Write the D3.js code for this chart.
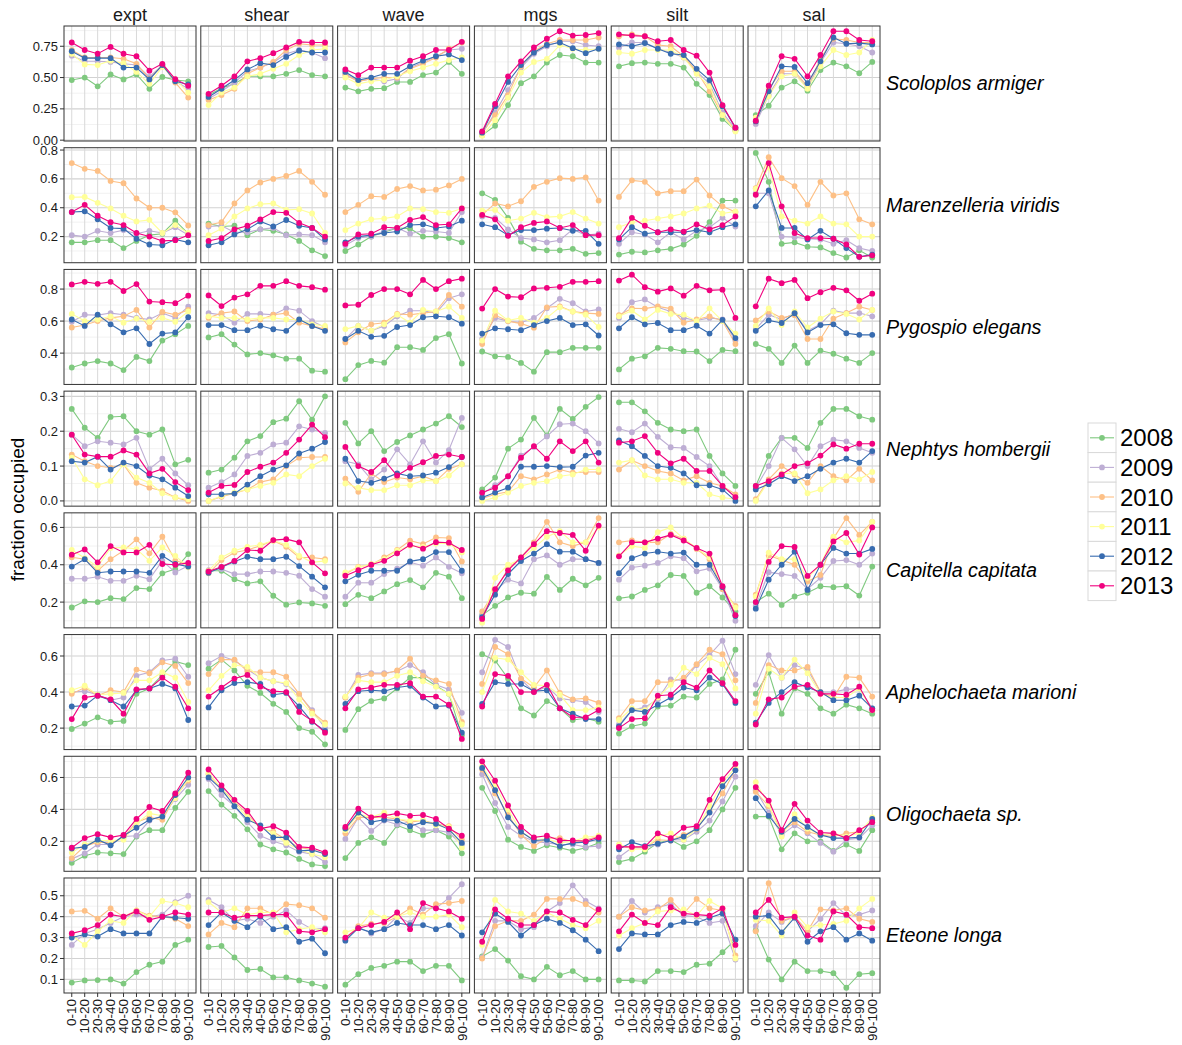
<!DOCTYPE html>
<html><head><meta charset="utf-8">
<script src="https://cdn.jsdelivr.net/npm/d3@7"></script>
<style>body{margin:0;background:#fff}svg{font-family:"Liberation Sans",Arial,Helvetica,sans-serif}</style>
</head><body><svg id="chart" width="1182" height="1045"></svg>
<script>
const years = ["2008","2009","2010","2011","2012","2013"];
const yearColors = ["#7FC97F","#BEAED4","#FDC086","#FFFF99","#386CB0","#F0027F"];
const variables = ["expt","shear","wave","mgs","silt","sal"];
const bins = ["0-10","10-20","20-30","30-40","40-50","50-60","60-70","70-80","80-90","90-100"];
const speciesNames = ["Scoloplos armiger","Marenzelleria viridis","Pygospio elegans","Nephtys hombergii","Capitella capitata","Aphelochaeta marioni","Oligochaeta sp.","Eteone longa"];
const yTickValues = [[0,0.25,0.5,0.75],[0.2,0.4,0.6,0.8],[0.4,0.6,0.8],[0,0.1,0.2,0.3],[0.2,0.4,0.6],[0.2,0.4,0.6],[0.2,0.4,0.6],[0.1,0.2,0.3,0.4,0.5]];
const yTickLabels = [["0.00","0.25","0.50","0.75"],["0.2","0.4","0.6","0.8"],["0.4","0.6","0.8"],["0.0","0.1","0.2","0.3"],["0.2","0.4","0.6"],["0.2","0.4","0.6"],["0.2","0.4","0.6"],["0.1","0.2","0.3","0.4","0.5"]];

// each species: [variable][year][bin]
const scoloplosArmiger = [
 [[0.48,0.50,0.43,0.525,0.485,0.525,0.41,0.505,0.48,0.47],[0.675,0.63,0.63,0.625,0.61,0.60,0.505,0.60,0.47,0.41],[0.72,0.66,0.66,0.66,0.65,0.61,0.49,0.60,0.46,0.34],[0.69,0.605,0.60,0.635,0.615,0.545,0.45,0.585,0.485,0.38],[0.71,0.655,0.655,0.655,0.58,0.58,0.485,0.60,0.47,0.445],[0.78,0.72,0.69,0.745,0.69,0.67,0.555,0.61,0.487,0.434]],
 [[0.36,0.415,0.45,0.51,0.51,0.51,0.53,0.56,0.52,0.51],[0.33,0.39,0.46,0.55,0.58,0.62,0.69,0.72,0.70,0.655],[0.32,0.36,0.41,0.53,0.58,0.625,0.72,0.77,0.76,0.76],[0.28,0.38,0.42,0.51,0.53,0.57,0.61,0.68,0.72,0.73],[0.345,0.41,0.48,0.565,0.615,0.60,0.665,0.715,0.70,0.70],[0.37,0.435,0.51,0.63,0.655,0.695,0.74,0.785,0.78,0.78]],
 [[0.42,0.39,0.41,0.415,0.465,0.465,0.52,0.54,0.625,0.53],[0.53,0.47,0.49,0.47,0.49,0.58,0.62,0.67,0.72,0.73],[0.52,0.47,0.49,0.50,0.50,0.57,0.61,0.66,0.73,0.78],[0.50,0.45,0.47,0.48,0.51,0.55,0.58,0.61,0.64,0.66],[0.545,0.48,0.50,0.53,0.53,0.59,0.635,0.67,0.685,0.64],[0.565,0.52,0.58,0.58,0.58,0.635,0.67,0.72,0.72,0.785]],
 [[0.04,0.115,0.28,0.455,0.51,0.62,0.68,0.67,0.62,0.62],[0.05,0.22,0.40,0.58,0.69,0.75,0.79,0.79,0.76,0.75],[0.06,0.20,0.36,0.59,0.71,0.77,0.80,0.80,0.80,0.82],[0.035,0.16,0.34,0.54,0.625,0.65,0.76,0.73,0.72,0.73],[0.06,0.27,0.465,0.60,0.70,0.76,0.78,0.735,0.695,0.73],[0.07,0.29,0.51,0.63,0.74,0.81,0.87,0.835,0.84,0.855]],
 [[0.59,0.615,0.62,0.61,0.61,0.58,0.45,0.36,0.17,0.08],[0.74,0.78,0.78,0.73,0.70,0.66,0.55,0.45,0.22,0.09],[0.83,0.845,0.83,0.76,0.75,0.67,0.55,0.39,0.20,0.08],[0.70,0.69,0.72,0.72,0.72,0.66,0.53,0.43,0.20,0.07],[0.765,0.75,0.775,0.73,0.69,0.68,0.57,0.48,0.27,0.10],[0.845,0.835,0.83,0.79,0.80,0.72,0.675,0.54,0.28,0.10]],
 [[0.20,0.275,0.42,0.47,0.395,0.56,0.62,0.59,0.535,0.625],[0.13,0.36,0.53,0.53,0.42,0.62,0.78,0.77,0.75,0.70],[0.15,0.41,0.55,0.55,0.43,0.65,0.81,0.80,0.78,0.78],[0.18,0.35,0.51,0.53,0.41,0.59,0.72,0.68,0.70,0.80],[0.15,0.39,0.59,0.585,0.455,0.63,0.82,0.77,0.775,0.765],[0.155,0.435,0.67,0.65,0.51,0.68,0.87,0.87,0.80,0.79]]
];
const marenzelleriaViridis = [
 [[0.16,0.16,0.175,0.175,0.12,0.17,0.21,0.22,0.31,0.22],[0.21,0.20,0.24,0.225,0.245,0.22,0.24,0.225,0.265,0.21],[0.71,0.67,0.655,0.586,0.57,0.464,0.40,0.40,0.368,0.277],[0.473,0.475,0.434,0.395,0.345,0.305,0.316,0.225,0.28,0.225],[0.37,0.375,0.32,0.26,0.255,0.185,0.145,0.14,0.18,0.16],[0.37,0.42,0.345,0.30,0.28,0.225,0.20,0.17,0.175,0.21]],
 [[0.29,0.27,0.275,0.21,0.25,0.24,0.215,0.17,0.105,0.065],[0.27,0.275,0.23,0.23,0.25,0.26,0.21,0.215,0.21,0.16],[0.28,0.30,0.43,0.52,0.575,0.60,0.62,0.655,0.58,0.49],[0.21,0.255,0.34,0.395,0.425,0.43,0.385,0.39,0.36,0.225],[0.14,0.16,0.215,0.25,0.305,0.27,0.315,0.275,0.26,0.18],[0.17,0.19,0.25,0.275,0.32,0.37,0.365,0.295,0.26,0.20]],
 [[0.10,0.145,0.20,0.23,0.26,0.255,0.20,0.20,0.19,0.16],[0.14,0.19,0.20,0.24,0.26,0.22,0.24,0.235,0.225,0.37],[0.37,0.42,0.48,0.475,0.53,0.55,0.52,0.525,0.555,0.60],[0.245,0.29,0.32,0.325,0.34,0.395,0.39,0.37,0.365,0.395],[0.16,0.20,0.21,0.225,0.235,0.28,0.285,0.26,0.27,0.31],[0.15,0.215,0.22,0.265,0.26,0.315,0.335,0.28,0.285,0.395]],
 [[0.50,0.455,0.33,0.165,0.115,0.105,0.105,0.115,0.08,0.085],[0.34,0.33,0.25,0.19,0.18,0.16,0.175,0.25,0.21,0.22],[0.35,0.43,0.41,0.445,0.545,0.58,0.605,0.60,0.61,0.45],[0.38,0.385,0.31,0.325,0.365,0.335,0.34,0.37,0.325,0.29],[0.285,0.265,0.21,0.245,0.245,0.255,0.26,0.24,0.24,0.15],[0.35,0.32,0.205,0.265,0.295,0.305,0.26,0.28,0.21,0.21]],
 [[0.075,0.095,0.09,0.105,0.115,0.145,0.205,0.30,0.45,0.45],[0.15,0.23,0.215,0.16,0.23,0.18,0.24,0.265,0.33,0.27],[0.475,0.59,0.58,0.50,0.515,0.515,0.595,0.485,0.41,0.37],[0.265,0.30,0.31,0.325,0.34,0.36,0.395,0.415,0.36,0.375],[0.18,0.265,0.22,0.23,0.23,0.23,0.245,0.23,0.265,0.285],[0.19,0.33,0.275,0.23,0.25,0.235,0.285,0.25,0.28,0.34]],
 [[0.78,0.58,0.15,0.16,0.13,0.125,0.085,0.055,0.105,0.055],[0.50,0.50,0.20,0.195,0.185,0.18,0.15,0.175,0.12,0.10],[0.535,0.75,0.605,0.55,0.42,0.58,0.485,0.50,0.32,0.285],[0.53,0.68,0.34,0.31,0.29,0.34,0.29,0.285,0.20,0.20],[0.41,0.52,0.26,0.26,0.18,0.24,0.185,0.12,0.06,0.075],[0.49,0.71,0.41,0.225,0.19,0.19,0.185,0.145,0.06,0.07]]
];
const pygospioElegans = [
 [[0.31,0.335,0.35,0.335,0.294,0.376,0.35,0.478,0.518,0.57],[0.596,0.64,0.637,0.65,0.64,0.62,0.61,0.65,0.62,0.69],[0.56,0.575,0.60,0.62,0.63,0.67,0.56,0.657,0.64,0.67],[0.645,0.60,0.61,0.63,0.59,0.616,0.596,0.62,0.596,0.66],[0.61,0.57,0.64,0.58,0.53,0.555,0.457,0.522,0.529,0.624],[0.829,0.845,0.833,0.845,0.788,0.831,0.722,0.718,0.712,0.759]],
 [[0.498,0.518,0.453,0.392,0.40,0.386,0.365,0.365,0.29,0.284],[0.65,0.64,0.59,0.645,0.645,0.64,0.68,0.665,0.60,0.56],[0.62,0.65,0.66,0.60,0.61,0.64,0.65,0.59,0.57,0.55],[0.63,0.62,0.62,0.61,0.62,0.62,0.61,0.61,0.58,0.57],[0.575,0.575,0.543,0.543,0.571,0.549,0.539,0.61,0.569,0.539],[0.76,0.694,0.747,0.767,0.82,0.82,0.849,0.82,0.812,0.796]],
 [[0.237,0.325,0.351,0.34,0.437,0.437,0.42,0.494,0.518,0.335],[0.488,0.57,0.54,0.57,0.63,0.665,0.665,0.65,0.743,0.767],[0.467,0.53,0.58,0.59,0.645,0.64,0.65,0.66,0.763,0.69],[0.55,0.57,0.54,0.58,0.64,0.59,0.67,0.66,0.69,0.62],[0.488,0.539,0.502,0.508,0.563,0.575,0.624,0.63,0.624,0.584],[0.698,0.702,0.763,0.80,0.80,0.767,0.857,0.80,0.849,0.865]],
 [[0.41,0.38,0.376,0.339,0.284,0.406,0.406,0.433,0.433,0.433],[0.488,0.62,0.60,0.59,0.62,0.68,0.739,0.712,0.66,0.673],[0.457,0.637,0.60,0.584,0.559,0.686,0.692,0.66,0.65,0.645],[0.478,0.665,0.604,0.62,0.59,0.62,0.686,0.66,0.64,0.563],[0.522,0.555,0.549,0.543,0.575,0.60,0.62,0.575,0.58,0.51],[0.678,0.80,0.753,0.749,0.804,0.808,0.814,0.845,0.845,0.849]],
 [[0.298,0.365,0.38,0.433,0.427,0.412,0.41,0.35,0.42,0.412],[0.62,0.718,0.735,0.686,0.66,0.62,0.604,0.62,0.61,0.478],[0.637,0.68,0.678,0.692,0.678,0.59,0.61,0.63,0.60,0.457],[0.63,0.665,0.61,0.67,0.645,0.64,0.60,0.68,0.60,0.522],[0.555,0.624,0.58,0.588,0.543,0.543,0.571,0.522,0.608,0.494],[0.853,0.89,0.812,0.784,0.804,0.759,0.82,0.792,0.796,0.62]],
 [[0.457,0.427,0.339,0.447,0.339,0.416,0.396,0.365,0.339,0.40],[0.55,0.64,0.61,0.65,0.539,0.58,0.665,0.65,0.65,0.63],[0.604,0.66,0.62,0.637,0.488,0.488,0.616,0.65,0.69,0.669],[0.57,0.68,0.575,0.66,0.56,0.616,0.66,0.645,0.61,0.67],[0.539,0.604,0.588,0.649,0.529,0.575,0.58,0.524,0.514,0.514],[0.692,0.865,0.837,0.857,0.743,0.78,0.808,0.792,0.727,0.771]]
];
const nephtysHombergii = [
 [[0.264,0.21,0.181,0.241,0.243,0.20,0.19,0.205,0.105,0.118],[0.19,0.157,0.171,0.167,0.162,0.181,0.092,0.121,0.079,0.045],[0.133,0.114,0.10,0.095,0.105,0.052,0.038,0.029,0.01,0.0],[0.124,0.062,0.045,0.057,0.105,0.067,0.052,0.022,0.01,0.005],[0.114,0.11,0.127,0.09,0.11,0.10,0.073,0.062,0.038,0.014],[0.19,0.133,0.127,0.127,0.145,0.133,0.079,0.092,0.054,0.031]],
 [[0.081,0.09,0.124,0.171,0.186,0.226,0.236,0.286,0.233,0.30],[0.038,0.054,0.076,0.129,0.138,0.162,0.167,0.214,0.205,0.195],[0.0,0.012,0.022,0.033,0.054,0.062,0.10,0.124,0.126,0.126],[0.0,0.014,0.024,0.033,0.043,0.052,0.076,0.071,0.10,0.121],[0.019,0.019,0.021,0.047,0.071,0.09,0.102,0.136,0.15,0.169],[0.024,0.043,0.046,0.083,0.098,0.11,0.138,0.176,0.219,0.183]],
 [[0.224,0.165,0.20,0.143,0.169,0.188,0.205,0.222,0.243,0.212],[0.114,0.105,0.062,0.09,0.148,0.105,0.171,0.11,0.146,0.238],[0.064,0.026,0.079,0.054,0.067,0.062,0.071,0.057,0.092,0.105],[0.05,0.038,0.031,0.031,0.045,0.045,0.059,0.057,0.073,0.105],[0.121,0.057,0.052,0.064,0.079,0.071,0.073,0.081,0.097,0.126],[0.155,0.10,0.083,0.117,0.073,0.095,0.111,0.129,0.133,0.126]],
 [[0.033,0.067,0.15,0.176,0.238,0.188,0.264,0.235,0.27,0.298],[0.02,0.045,0.07,0.13,0.155,0.185,0.22,0.222,0.20,0.165],[0.007,0.019,0.026,0.071,0.062,0.076,0.09,0.081,0.083,0.083],[0.0,0.01,0.024,0.043,0.052,0.057,0.071,0.076,0.09,0.09],[0.01,0.024,0.038,0.098,0.098,0.10,0.097,0.098,0.13,0.138],[0.024,0.038,0.071,0.124,0.157,0.121,0.171,0.143,0.171,0.11]],
 [[0.283,0.283,0.257,0.224,0.205,0.20,0.205,0.129,0.079,0.043],[0.207,0.197,0.222,0.184,0.154,0.152,0.126,0.10,0.043,0.01],[0.09,0.116,0.10,0.086,0.079,0.059,0.071,0.052,0.043,0.019],[0.11,0.117,0.073,0.062,0.062,0.052,0.052,0.019,0.01,0.005],[0.174,0.157,0.129,0.10,0.095,0.079,0.045,0.045,0.033,0.0],[0.167,0.171,0.186,0.138,0.108,0.121,0.086,0.086,0.043,0.011]],
 [[0.043,0.129,0.181,0.181,0.152,0.224,0.264,0.264,0.243,0.233],[0.038,0.10,0.181,0.148,0.10,0.157,0.176,0.171,0.152,0.138],[0.005,0.062,0.10,0.076,0.052,0.10,0.071,0.059,0.092,0.059],[0.0,0.057,0.079,0.079,0.022,0.033,0.059,0.071,0.062,0.083],[0.033,0.048,0.071,0.057,0.071,0.092,0.11,0.121,0.11,0.143],[0.043,0.057,0.076,0.10,0.108,0.13,0.162,0.15,0.164,0.164]]
];
const capitellaCapitata = [
 [[0.171,0.204,0.20,0.221,0.216,0.275,0.27,0.354,0.377,0.457],[0.325,0.325,0.336,0.314,0.314,0.341,0.323,0.421,0.359,0.395],[0.44,0.43,0.368,0.43,0.475,0.536,0.461,0.55,0.421,0.404],[0.479,0.436,0.39,0.49,0.493,0.484,0.421,0.493,0.448,0.386],[0.39,0.43,0.357,0.364,0.364,0.364,0.357,0.448,0.404,0.39],[0.454,0.482,0.413,0.50,0.466,0.466,0.507,0.404,0.40,0.41]],
 [[0.368,0.368,0.323,0.30,0.311,0.234,0.186,0.198,0.193,0.18],[0.371,0.377,0.35,0.35,0.364,0.364,0.357,0.341,0.27,0.229],[0.354,0.425,0.466,0.479,0.502,0.529,0.496,0.439,0.439,0.43],[0.368,0.439,0.475,0.496,0.507,0.529,0.507,0.448,0.413,0.421],[0.357,0.386,0.418,0.443,0.43,0.43,0.443,0.393,0.336,0.279],[0.364,0.389,0.421,0.479,0.475,0.532,0.537,0.52,0.413,0.354]],
 [[0.189,0.239,0.221,0.257,0.296,0.318,0.279,0.357,0.336,0.221],[0.229,0.304,0.304,0.35,0.379,0.413,0.395,0.439,0.389,0.354],[0.35,0.389,0.40,0.439,0.479,0.529,0.511,0.546,0.543,0.418],[0.359,0.386,0.404,0.43,0.475,0.502,0.496,0.514,0.514,0.466],[0.311,0.346,0.368,0.368,0.368,0.418,0.43,0.468,0.468,0.368],[0.341,0.371,0.40,0.421,0.461,0.507,0.486,0.521,0.518,0.479]],
 [[0.13,0.18,0.225,0.25,0.245,0.335,0.265,0.325,0.29,0.33],[0.13,0.26,0.32,0.30,0.43,0.45,0.40,0.43,0.43,0.41],[0.15,0.26,0.38,0.44,0.52,0.63,0.52,0.50,0.52,0.65],[0.09,0.33,0.40,0.43,0.49,0.55,0.58,0.52,0.52,0.60],[0.12,0.24,0.35,0.42,0.46,0.51,0.47,0.47,0.43,0.41],[0.11,0.27,0.37,0.44,0.51,0.58,0.57,0.56,0.475,0.61]],
 [[0.22,0.23,0.265,0.29,0.345,0.34,0.25,0.285,0.225,0.15],[0.32,0.385,0.395,0.41,0.445,0.435,0.365,0.38,0.27,0.10],[0.52,0.53,0.52,0.52,0.565,0.54,0.485,0.43,0.27,0.18],[0.45,0.50,0.49,0.575,0.60,0.54,0.49,0.44,0.28,0.17],[0.355,0.435,0.46,0.47,0.46,0.465,0.40,0.40,0.28,0.125],[0.445,0.52,0.52,0.54,0.56,0.53,0.49,0.46,0.285,0.13]],
 [[0.20,0.245,0.185,0.23,0.25,0.285,0.28,0.285,0.235,0.39],[0.18,0.36,0.35,0.34,0.27,0.33,0.42,0.425,0.40,0.46],[0.24,0.45,0.425,0.40,0.31,0.345,0.54,0.65,0.56,0.63],[0.23,0.465,0.43,0.43,0.33,0.40,0.55,0.52,0.53,0.63],[0.165,0.32,0.40,0.47,0.265,0.40,0.49,0.46,0.46,0.485],[0.20,0.415,0.50,0.495,0.34,0.40,0.525,0.57,0.455,0.60]]
];
const aphelochaetaMarioni = [
 [[0.195,0.225,0.26,0.235,0.24,0.39,0.42,0.495,0.57,0.55],[0.40,0.405,0.385,0.355,0.37,0.49,0.51,0.575,0.585,0.485],[0.39,0.425,0.38,0.41,0.40,0.525,0.505,0.565,0.545,0.45],[0.41,0.435,0.385,0.39,0.395,0.465,0.465,0.51,0.48,0.345],[0.32,0.325,0.38,0.355,0.32,0.41,0.42,0.445,0.42,0.245],[0.25,0.37,0.38,0.36,0.28,0.415,0.42,0.48,0.43,0.31]],
 [[0.53,0.58,0.52,0.435,0.395,0.335,0.29,0.20,0.18,0.11],[0.56,0.60,0.575,0.525,0.48,0.46,0.445,0.385,0.30,0.20],[0.50,0.58,0.58,0.515,0.51,0.51,0.485,0.39,0.29,0.23],[0.41,0.49,0.55,0.54,0.48,0.46,0.45,0.36,0.28,0.22],[0.315,0.41,0.45,0.455,0.445,0.385,0.395,0.32,0.235,0.185],[0.375,0.425,0.475,0.495,0.43,0.405,0.40,0.29,0.24,0.175]],
 [[0.19,0.305,0.35,0.365,0.42,0.48,0.48,0.435,0.39,0.16],[0.37,0.495,0.505,0.505,0.515,0.55,0.51,0.44,0.415,0.285],[0.37,0.48,0.50,0.50,0.52,0.585,0.49,0.465,0.445,0.235],[0.375,0.465,0.455,0.455,0.49,0.51,0.46,0.43,0.39,0.22],[0.335,0.405,0.41,0.405,0.425,0.435,0.37,0.32,0.325,0.175],[0.31,0.415,0.425,0.44,0.44,0.45,0.375,0.375,0.33,0.14]],
 [[0.61,0.575,0.475,0.31,0.27,0.35,0.31,0.245,0.255,0.235],[0.51,0.69,0.65,0.47,0.40,0.43,0.365,0.355,0.345,0.29],[0.445,0.65,0.61,0.475,0.425,0.52,0.395,0.36,0.365,0.34],[0.40,0.59,0.58,0.51,0.44,0.435,0.385,0.30,0.30,0.315],[0.335,0.455,0.445,0.445,0.405,0.41,0.31,0.28,0.25,0.25],[0.32,0.50,0.49,0.40,0.40,0.44,0.31,0.26,0.26,0.30]],
 [[0.17,0.21,0.225,0.32,0.325,0.375,0.37,0.445,0.47,0.635],[0.22,0.30,0.315,0.36,0.47,0.465,0.55,0.605,0.685,0.50],[0.255,0.35,0.35,0.455,0.455,0.48,0.555,0.635,0.61,0.465],[0.245,0.31,0.30,0.37,0.44,0.535,0.50,0.59,0.555,0.42],[0.21,0.30,0.29,0.33,0.37,0.425,0.41,0.48,0.445,0.34],[0.20,0.25,0.255,0.38,0.385,0.455,0.425,0.52,0.45,0.35]],
 [[0.39,0.51,0.28,0.42,0.39,0.31,0.28,0.33,0.31,0.28],[0.44,0.605,0.48,0.55,0.525,0.40,0.40,0.415,0.42,0.31],[0.34,0.55,0.52,0.52,0.54,0.40,0.37,0.485,0.48,0.375],[0.28,0.53,0.48,0.58,0.505,0.39,0.37,0.37,0.42,0.30],[0.23,0.34,0.40,0.455,0.425,0.40,0.355,0.355,0.38,0.31],[0.22,0.36,0.37,0.43,0.44,0.39,0.39,0.385,0.43,0.30]]
];
const oligochaetaSp = [
 [[0.065,0.11,0.13,0.125,0.12,0.23,0.27,0.27,0.41,0.51],[0.09,0.125,0.18,0.18,0.23,0.235,0.33,0.36,0.465,0.555],[0.095,0.17,0.195,0.19,0.225,0.32,0.35,0.335,0.48,0.58],[0.13,0.18,0.205,0.205,0.21,0.31,0.375,0.36,0.47,0.59],[0.155,0.165,0.21,0.175,0.235,0.285,0.335,0.355,0.49,0.60],[0.16,0.22,0.245,0.225,0.24,0.34,0.415,0.39,0.50,0.63]],
 [[0.515,0.43,0.36,0.275,0.18,0.15,0.13,0.09,0.055,0.045],[0.59,0.49,0.42,0.32,0.235,0.20,0.175,0.135,0.12,0.07],[0.62,0.53,0.45,0.37,0.28,0.26,0.21,0.16,0.15,0.12],[0.63,0.53,0.44,0.35,0.29,0.25,0.19,0.15,0.12,0.10],[0.60,0.525,0.42,0.335,0.30,0.225,0.225,0.14,0.145,0.12],[0.65,0.55,0.46,0.39,0.28,0.295,0.255,0.165,0.16,0.13]],
 [[0.095,0.19,0.225,0.19,0.30,0.27,0.24,0.27,0.23,0.125],[0.215,0.35,0.265,0.33,0.305,0.32,0.27,0.27,0.255,0.18],[0.25,0.35,0.35,0.35,0.34,0.32,0.33,0.31,0.295,0.21],[0.27,0.37,0.35,0.38,0.34,0.33,0.33,0.30,0.29,0.16],[0.28,0.38,0.32,0.335,0.33,0.295,0.32,0.31,0.275,0.19],[0.29,0.405,0.35,0.36,0.375,0.36,0.365,0.34,0.28,0.235]],
 [[0.535,0.39,0.21,0.165,0.14,0.175,0.16,0.14,0.16,0.19],[0.62,0.44,0.29,0.235,0.20,0.19,0.18,0.18,0.165,0.17],[0.65,0.50,0.37,0.24,0.17,0.22,0.22,0.195,0.21,0.23],[0.67,0.55,0.40,0.26,0.21,0.215,0.19,0.20,0.225,0.235],[0.66,0.52,0.35,0.26,0.205,0.21,0.17,0.19,0.195,0.215],[0.70,0.58,0.425,0.29,0.225,0.235,0.205,0.205,0.20,0.225]],
 [[0.07,0.09,0.135,0.19,0.21,0.165,0.20,0.27,0.40,0.535],[0.10,0.16,0.16,0.18,0.21,0.21,0.26,0.33,0.45,0.605],[0.175,0.16,0.16,0.21,0.205,0.24,0.275,0.39,0.50,0.65],[0.18,0.15,0.15,0.23,0.25,0.21,0.28,0.42,0.57,0.66],[0.15,0.195,0.17,0.185,0.205,0.23,0.28,0.38,0.545,0.645],[0.165,0.165,0.165,0.25,0.22,0.285,0.295,0.46,0.59,0.685]],
 [[0.355,0.355,0.15,0.25,0.20,0.20,0.14,0.18,0.14,0.27],[0.52,0.38,0.24,0.30,0.25,0.19,0.135,0.21,0.22,0.30],[0.51,0.42,0.26,0.32,0.26,0.24,0.23,0.25,0.26,0.33],[0.57,0.43,0.23,0.37,0.28,0.24,0.25,0.23,0.25,0.35],[0.47,0.36,0.26,0.34,0.29,0.24,0.22,0.22,0.225,0.34],[0.54,0.455,0.27,0.435,0.33,0.255,0.25,0.22,0.27,0.32]]
];
const eteoneLonga = [
 [[0.085,0.095,0.097,0.10,0.08,0.135,0.17,0.185,0.265,0.29],[0.265,0.32,0.34,0.37,0.40,0.41,0.40,0.41,0.47,0.50],[0.425,0.428,0.39,0.44,0.40,0.43,0.405,0.40,0.39,0.355],[0.31,0.265,0.33,0.38,0.37,0.43,0.40,0.475,0.465,0.445],[0.30,0.315,0.305,0.34,0.32,0.32,0.32,0.40,0.395,0.39],[0.32,0.335,0.36,0.41,0.40,0.425,0.385,0.40,0.42,0.41]],
 [[0.255,0.26,0.205,0.145,0.15,0.11,0.11,0.095,0.08,0.065],[0.48,0.445,0.38,0.39,0.37,0.40,0.43,0.375,0.34,0.345],[0.315,0.37,0.35,0.44,0.44,0.41,0.46,0.455,0.44,0.395],[0.47,0.42,0.44,0.41,0.42,0.42,0.325,0.34,0.35,0.325],[0.36,0.42,0.38,0.35,0.40,0.34,0.35,0.28,0.295,0.225],[0.42,0.42,0.395,0.405,0.405,0.41,0.41,0.33,0.325,0.34]],
 [[0.075,0.125,0.155,0.165,0.185,0.185,0.14,0.165,0.165,0.095],[0.29,0.35,0.32,0.34,0.40,0.37,0.44,0.44,0.49,0.555],[0.295,0.355,0.365,0.37,0.40,0.44,0.41,0.46,0.465,0.475],[0.325,0.345,0.42,0.395,0.40,0.42,0.40,0.40,0.41,0.35],[0.285,0.345,0.325,0.34,0.37,0.36,0.36,0.34,0.36,0.31],[0.30,0.345,0.36,0.375,0.42,0.34,0.465,0.44,0.425,0.39]],
 [[0.21,0.245,0.19,0.115,0.10,0.16,0.12,0.14,0.10,0.10],[0.205,0.38,0.38,0.34,0.35,0.425,0.465,0.55,0.475,0.44],[0.20,0.355,0.38,0.38,0.41,0.485,0.485,0.485,0.46,0.42],[0.265,0.48,0.425,0.415,0.38,0.42,0.39,0.36,0.345,0.38],[0.325,0.415,0.375,0.31,0.36,0.39,0.37,0.335,0.29,0.235],[0.28,0.435,0.39,0.36,0.36,0.425,0.42,0.385,0.36,0.435]],
 [[0.095,0.095,0.09,0.14,0.14,0.135,0.17,0.175,0.23,0.29],[0.40,0.475,0.42,0.445,0.46,0.405,0.40,0.37,0.38,0.195],[0.40,0.445,0.43,0.435,0.48,0.415,0.485,0.44,0.43,0.215],[0.31,0.345,0.37,0.425,0.43,0.435,0.405,0.475,0.44,0.20],[0.245,0.32,0.315,0.315,0.36,0.375,0.37,0.395,0.415,0.29],[0.33,0.41,0.37,0.36,0.445,0.415,0.41,0.405,0.44,0.265]],
 [[0.335,0.195,0.10,0.185,0.14,0.14,0.13,0.06,0.125,0.13],[0.355,0.42,0.375,0.40,0.33,0.39,0.465,0.405,0.41,0.43],[0.33,0.56,0.38,0.40,0.33,0.435,0.43,0.44,0.39,0.375],[0.385,0.38,0.31,0.42,0.35,0.36,0.365,0.38,0.44,0.485],[0.40,0.405,0.325,0.395,0.28,0.33,0.35,0.29,0.32,0.285],[0.42,0.48,0.395,0.40,0.31,0.29,0.425,0.41,0.35,0.345]]
];
const speciesData = [scoloplosArmiger, marenzelleriaViridis, pygospioElegans, nephtysHombergii, capitellaCapitata, aphelochaetaMarioni, oligochaetaSp, eteoneLonga];

(function () {
const svg = d3.select("#chart");
const plotLeft = 64, plotRight = 880, plotTop = 26, plotBottom = 993;
const gapX = 4.8, gapY = 6.7;
const nCol = variables.length, nRow = speciesNames.length;
const pw = (plotRight - plotLeft - gapX * (nCol - 1)) / nCol;
const ph = (plotBottom - plotTop - gapY * (nRow - 1)) / nRow;

const x = d3.scalePoint().domain(bins).range([0, pw]).padding(0.6);
const color = d3.scaleOrdinal().domain(years).range(yearColors);

variables.forEach((v, c) => {
  svg.append("text").attr("x", plotLeft + c * (pw + gapX) + pw / 2).attr("y", 21)
    .attr("text-anchor", "middle").attr("font-size", 18).attr("fill", "#1a1a1a").text(v);
});

speciesData.forEach((sp, r) => {
  const y0 = plotTop + r * (ph + gapY);
  const all = sp.flat(2);
  const ext = d3.extent(all);
  const pad = (ext[1] - ext[0]) * 0.05;
  const y = d3.scaleLinear().domain([ext[0] - pad, ext[1] + pad]).range([ph, 0]);
  const ticks = yTickValues[r];
  const step = ticks[1] - ticks[0];
  const minor = [];
  for (let t = ticks[0] - step / 2; t <= y.domain()[1]; t += step) if (t >= y.domain()[0]) minor.push(t);

  const ya = svg.append("g").attr("transform", `translate(${plotLeft},${y0})`);
  ticks.forEach((t, i) => {
    ya.append("line").attr("x1", -4).attr("x2", 0).attr("y1", y(t)).attr("y2", y(t)).attr("stroke", "#333").attr("stroke-width", 1);
    ya.append("text").attr("x", -6).attr("y", y(t)).attr("dy", "0.35em").attr("text-anchor", "end")
      .attr("font-size", 13).attr("fill", "#1a1a1a").text(yTickLabels[r][i]);
  });

  sp.forEach((varData, c) => {
    const g = svg.append("g").attr("transform", `translate(${plotLeft + c * (pw + gapX)},${y0})`);
    g.append("rect").attr("width", pw).attr("height", ph).attr("fill", "#fff");
    minor.forEach(t => g.append("line").attr("x1", 0).attr("x2", pw).attr("y1", y(t)).attr("y2", y(t)).attr("stroke", "#ececec").attr("stroke-width", 0.7));
    ticks.forEach(t => g.append("line").attr("x1", 0).attr("x2", pw).attr("y1", y(t)).attr("y2", y(t)).attr("stroke", "#d2d2d2").attr("stroke-width", 1.1));
    bins.forEach(b => g.append("line").attr("x1", x(b)).attr("x2", x(b)).attr("y1", 0).attr("y2", ph).attr("stroke", "#d9d9d9").attr("stroke-width", 1));
    const line = d3.line().x((d, i) => x(bins[i])).y(d => y(d));
    varData.forEach((vals, k) => {
      g.append("path").attr("d", line(vals)).attr("fill", "none").attr("stroke", color(years[k])).attr("stroke-width", 1.1);
      g.selectAll(null).data(vals).enter().append("circle")
        .attr("cx", (d, i) => x(bins[i])).attr("cy", d => y(d)).attr("r", 2.9).attr("fill", color(years[k]));
    });
    g.append("rect").attr("width", pw).attr("height", ph).attr("fill", "none").attr("stroke", "#333").attr("stroke-width", 1);

    if (r === nRow - 1) {
      bins.forEach(b => {
        g.append("line").attr("x1", x(b)).attr("x2", x(b)).attr("y1", ph).attr("y2", ph + 4).attr("stroke", "#333");
        g.append("text").attr("transform", `translate(${x(b)},${ph + 6}) rotate(-90)`)
          .attr("dy", "0.35em").attr("text-anchor", "end").attr("font-size", 13.5).attr("fill", "#1a1a1a").text(b);
      });
    }
  });

  svg.append("text").attr("x", 886).attr("y", y0 + ph / 2).attr("dy", "0.35em")
    .attr("font-size", 19.7).attr("font-style", "italic").attr("fill", "#000").text(speciesNames[r]);
});

svg.append("text").attr("transform", `translate(24,${(plotTop + plotBottom) / 2}) rotate(-90)`)
  .attr("text-anchor", "middle").attr("font-size", 19).attr("fill", "#000").text("fraction occupied");

const lg = svg.append("g").attr("transform", "translate(1088,423)");
const kh = 29.6, kw = 28;
years.forEach((yr, i) => {
  const gy = i * kh;
  lg.append("rect").attr("x", 0).attr("y", gy).attr("width", kw).attr("height", kh).attr("fill", "#fff").attr("stroke", "#d9d9d9").attr("stroke-width", 1);
  lg.append("line").attr("x1", 2).attr("x2", kw - 2).attr("y1", gy + kh / 2).attr("y2", gy + kh / 2).attr("stroke", color(yr)).attr("stroke-width", 1.1);
  lg.append("circle").attr("cx", kw / 2).attr("cy", gy + kh / 2).attr("r", 2.9).attr("fill", color(yr));
  lg.append("text").attr("x", kw + 4).attr("y", gy + kh / 2).attr("dy", "0.36em").attr("font-size", 24).attr("fill", "#000").text(yr);
});
})();
</script></body></html>
